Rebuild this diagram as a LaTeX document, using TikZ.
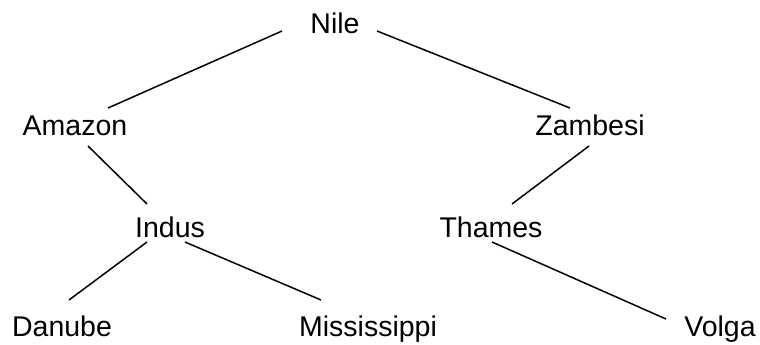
\documentclass[tikz,border=0pt]{standalone}
\usepackage{fontspec}
\setmainfont{Liberation Sans}
\begin{document}
\begin{tikzpicture}[x=1pt,y=-1pt,
  river/.style={anchor=base,inner sep=0pt,font=\fontsize{28.5}{34}\selectfont},
  link/.style={draw=black,line width=1.5pt}]
\useasboundingbox (0,0) rectangle (760,345);
\node[river] (nile) at (335,34) {Nile};
\node[river] (amazon) at (75,135) {Amazon};
\node[river] (zambesi) at (590,135) {Zambesi};
\node[river] (indus) at (170,237) {Indus};
\node[river] (thames) at (491,237) {Thames};
\node[river] (danube) at (62,336) {Danube};
\node[river] (mississippi) at (368,336) {Mississippi};
\node[river] (volga) at (720,336) {Volga};
\draw[link] ([shift={(-53,-3)}]nile.base) -- ([shift={(33,-27)}]amazon.base);
\draw[link] ([shift={(42,-3)}]nile.base) -- ([shift={(-20,-27)}]zambesi.base);
\draw[link] ([shift={(13,11)}]amazon.base) -- ([shift={(-23,-33)}]indus.base);
\draw[link] ([shift={(-1,11)}]zambesi.base) -- ([shift={(21,-33)}]thames.base);
\draw[link] ([shift={(-23,5)}]indus.base) -- ([shift={(7,-36)}]danube.base);
\draw[link] ([shift={(15,5)}]indus.base) -- ([shift={(-47,-36)}]mississippi.base);
\draw[link] ([shift={(1,5)}]thames.base) -- ([shift={(-54,-17)}]volga.base);
\end{tikzpicture}
\end{document}
